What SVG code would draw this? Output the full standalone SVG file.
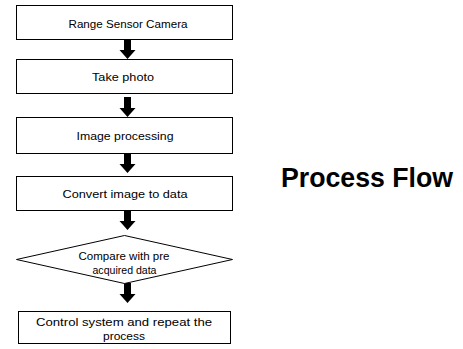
<svg xmlns="http://www.w3.org/2000/svg" width="463" height="349" viewBox="0 0 463 349">
<style>
.box{fill:#fff;stroke:#000;stroke-width:1}
.t{font-family:"Liberation Sans",Arial,sans-serif;font-size:11px;text-anchor:middle;fill:#000}
.title{font-family:"Liberation Sans",Arial,sans-serif;font-size:27px;font-weight:bold;fill:#000}
.arr{fill:#000}
</style>
<defs>
<path id="ar" d="M-3.5,0 H3.5 V11 H8 L0,20 L-8,11 H-3.5 Z"/>
</defs>
<rect width="463" height="349" fill="#fff"/>
<g id="connectors">
<use href="#ar" class="arr" x="127.5" y="39"/>
<use href="#ar" class="arr" x="127.5" y="97"/>
<use href="#ar" class="arr" x="127.5" y="153"/>
<use href="#ar" class="arr" x="127.5" y="210"/>
<use href="#ar" class="arr" x="127.5" y="283"/>
</g>
<g id="n1"><rect class="box" x="16.5" y="5.5" width="216" height="34"/><text class="t" x="128" y="28" textLength="119" lengthAdjust="spacingAndGlyphs">Range Sensor Camera</text></g>
<g id="n2"><rect class="box" x="16.5" y="59.5" width="216" height="34"/><text class="t" x="123" y="81" textLength="62" lengthAdjust="spacingAndGlyphs">Take photo</text></g>
<g id="n3"><rect class="box" x="16.5" y="117.5" width="216" height="36"/><text class="t" x="125" y="140" textLength="97" lengthAdjust="spacingAndGlyphs">Image processing</text></g>
<g id="n4"><rect class="box" x="16.5" y="176.5" width="216" height="34"/><text class="t" x="125" y="198" textLength="125" lengthAdjust="spacingAndGlyphs">Convert image to data</text></g>
<g id="n5"><polygon class="box" points="124.5,235.5 232.5,259.5 124.5,283.5 16.5,259.5"/><text class="t" x="124" y="260" textLength="91" lengthAdjust="spacingAndGlyphs">Compare with pre</text><text class="t" x="124.5" y="274" textLength="64" lengthAdjust="spacingAndGlyphs">acquired data</text></g>
<g id="n6"><rect class="box" x="18.5" y="311.5" width="212" height="32"/><text class="t" x="124" y="326" font-size="12" textLength="176" lengthAdjust="spacingAndGlyphs">Control system and repeat the</text><text class="t" x="124" y="340" font-size="12" textLength="42" lengthAdjust="spacingAndGlyphs">process</text></g>
<text class="title" x="281" y="187" textLength="172" lengthAdjust="spacingAndGlyphs">Process Flow</text>
</svg>
